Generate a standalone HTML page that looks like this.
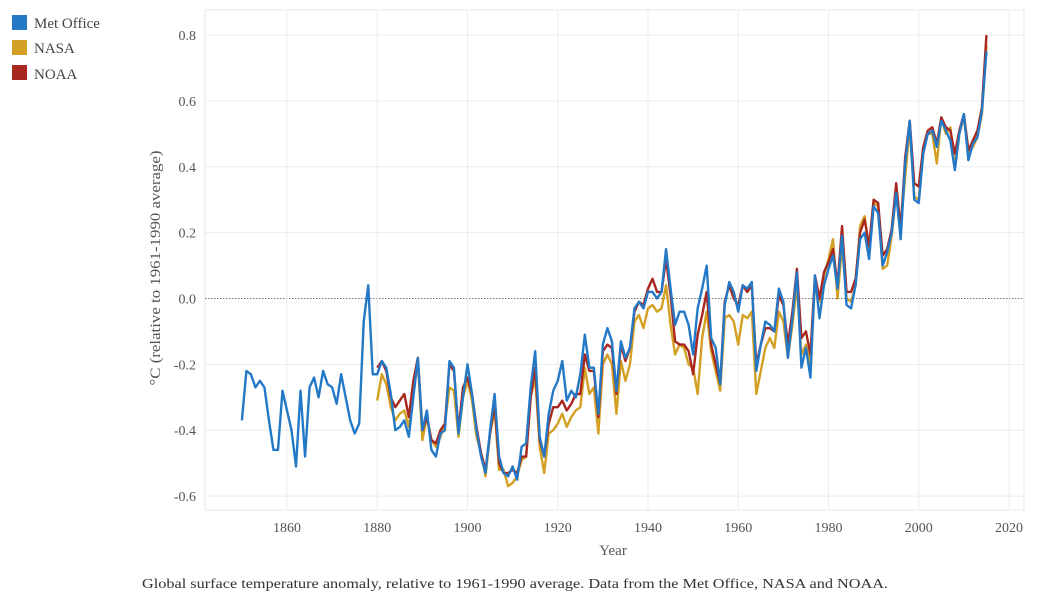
<!DOCTYPE html>
<html><head><meta charset="utf-8"><style>
body{margin:0;background:#fff;width:1038px;height:601px;overflow:hidden;font-family:"Liberation Serif",serif;}
svg text{font-family:"Liberation Serif",serif;}
</style></head><body>
<svg id="chart" width="1038" height="601" xmlns="http://www.w3.org/2000/svg">
<g>
<g><rect x="12" y="15" width="15" height="15" fill="#2479c7"/><text x="34" y="28" font-size="15" fill="#444">Met Office</text></g>
<g><rect x="12" y="40" width="15" height="15" fill="#d4a024"/><text x="34" y="53" font-size="15" fill="#444">NASA</text></g>
<g><rect x="12" y="65" width="15" height="15" fill="#a8271f"/><text x="34" y="79" font-size="15" fill="#444">NOAA</text></g>
</g>
<g id="grid"></g>
<g id="axes"></g>
<g id="series"></g>
<text x="613" y="555" text-anchor="middle" font-size="15" fill="#555">Year</text>
<text transform="translate(160,268) rotate(-90)" text-anchor="middle" font-size="15" textLength="235" lengthAdjust="spacingAndGlyphs" fill="#555">°C (relative to 1961-1990 average)</text>
<text x="142" y="588" font-size="14" textLength="746" lengthAdjust="spacingAndGlyphs" fill="#333">Global surface temperature anomaly, relative to 1961-1990 average. Data from the Met Office, NASA and NOAA.</text>
</svg>
<script>
const metStart = 1850;
const metValues = [-0.37,-0.22,-0.23,-0.27,-0.25,-0.27,-0.37,-0.46,-0.46,-0.28,-0.34,-0.40,-0.51,-0.28,-0.48,-0.27,-0.24,-0.30,-0.22,-0.26,-0.27,-0.32,-0.23,-0.30,-0.37,-0.41,-0.38,-0.07,0.04,-0.23,-0.23,-0.19,-0.21,-0.29,-0.40,-0.39,-0.37,-0.42,-0.30,-0.18,-0.40,-0.34,-0.46,-0.48,-0.41,-0.40,-0.19,-0.21,-0.41,-0.30,-0.20,-0.29,-0.40,-0.48,-0.53,-0.40,-0.29,-0.48,-0.53,-0.54,-0.51,-0.55,-0.45,-0.44,-0.27,-0.16,-0.42,-0.48,-0.35,-0.28,-0.25,-0.19,-0.31,-0.28,-0.30,-0.23,-0.11,-0.21,-0.21,-0.35,-0.14,-0.09,-0.13,-0.28,-0.13,-0.18,-0.15,-0.03,-0.01,-0.03,0.02,0.02,0.00,0.02,0.15,0.03,-0.08,-0.04,-0.04,-0.08,-0.17,-0.03,0.03,0.10,-0.12,-0.15,-0.26,-0.02,0.05,0.02,-0.04,0.04,0.03,0.05,-0.22,-0.14,-0.07,-0.08,-0.10,0.03,-0.01,-0.18,-0.06,0.08,-0.21,-0.15,-0.24,0.07,-0.06,0.04,0.09,0.13,0.03,0.19,-0.02,-0.03,0.04,0.18,0.20,0.12,0.28,0.26,0.10,0.14,0.20,0.32,0.18,0.41,0.54,0.30,0.29,0.44,0.50,0.51,0.46,0.54,0.51,0.48,0.39,0.50,0.56,0.42,0.47,0.49,0.57,0.75];
const nasaStart = 1880;
const nasaValues = [-0.31,-0.23,-0.26,-0.33,-0.37,-0.35,-0.34,-0.39,-0.29,-0.19,-0.43,-0.36,-0.43,-0.45,-0.42,-0.38,-0.27,-0.28,-0.42,-0.30,-0.25,-0.31,-0.42,-0.47,-0.54,-0.41,-0.34,-0.52,-0.52,-0.57,-0.56,-0.54,-0.49,-0.48,-0.30,-0.24,-0.45,-0.53,-0.41,-0.40,-0.38,-0.35,-0.39,-0.36,-0.34,-0.33,-0.21,-0.29,-0.27,-0.41,-0.20,-0.17,-0.20,-0.35,-0.19,-0.25,-0.20,-0.07,-0.05,-0.09,-0.03,-0.02,-0.04,-0.03,0.04,-0.08,-0.17,-0.14,-0.15,-0.20,-0.21,-0.29,-0.12,-0.04,-0.16,-0.22,-0.28,-0.06,-0.05,-0.07,-0.14,-0.05,-0.06,-0.04,-0.29,-0.22,-0.15,-0.12,-0.15,-0.04,-0.07,-0.18,-0.08,0.04,-0.17,-0.14,-0.20,0.05,-0.01,0.07,0.12,0.18,0.00,0.16,0.00,-0.01,0.04,0.22,0.25,0.15,0.29,0.28,0.09,0.10,0.19,0.32,0.22,0.37,0.52,0.31,0.30,0.45,0.50,0.50,0.41,0.55,0.50,0.52,0.40,0.50,0.55,0.44,0.46,0.49,0.56,0.77];
const noaaStart = 1880;
const noaaValues = [-0.21,-0.19,-0.22,-0.30,-0.33,-0.31,-0.29,-0.36,-0.25,-0.18,-0.40,-0.36,-0.43,-0.44,-0.40,-0.38,-0.20,-0.22,-0.40,-0.27,-0.24,-0.29,-0.39,-0.47,-0.52,-0.41,-0.32,-0.50,-0.53,-0.53,-0.52,-0.53,-0.48,-0.48,-0.30,-0.21,-0.43,-0.48,-0.38,-0.33,-0.33,-0.31,-0.34,-0.32,-0.29,-0.29,-0.17,-0.22,-0.22,-0.36,-0.16,-0.14,-0.15,-0.29,-0.14,-0.19,-0.15,-0.04,-0.01,-0.02,0.03,0.06,0.02,0.02,0.12,0.01,-0.13,-0.14,-0.14,-0.16,-0.23,-0.11,-0.05,0.02,-0.14,-0.20,-0.26,-0.01,0.04,0.00,-0.02,0.04,0.02,0.04,-0.20,-0.14,-0.09,-0.09,-0.10,0.01,-0.02,-0.14,-0.04,0.09,-0.12,-0.10,-0.17,0.07,0.00,0.08,0.11,0.15,0.04,0.22,0.02,0.02,0.06,0.20,0.24,0.16,0.30,0.29,0.13,0.15,0.21,0.35,0.21,0.43,0.54,0.35,0.34,0.46,0.51,0.52,0.47,0.55,0.52,0.51,0.44,0.51,0.56,0.45,0.48,0.51,0.58,0.80];
const xTicks = [1860,1880,1900,1920,1940,1960,1980,2000,2020];
const yTicks = [-0.6,-0.4,-0.2,0.0,0.2,0.4,0.6,0.8];

const NS='http://www.w3.org/2000/svg';
const L=205,R=1024,T=10,B=510;
function xs(y){return 287+(y-1860)*(1009-287)/160;}
function ys(v){return 298.5-v*(461/1.4);}
function mk(tag,attrs,parent){const e=document.createElementNS(NS,tag);for(const k in attrs)e.setAttribute(k,attrs[k]);parent.appendChild(e);return e;}
const grid=document.getElementById('grid'),axes=document.getElementById('axes'),series=document.getElementById('series');
const frame=mk('rect',{x:L,y:T,width:R-L,height:B-T,fill:'none',stroke:'#e6e6e6'},grid);


yTicks.forEach(v=>{
  const ln=mk('line',{x1:L,x2:R,y1:ys(v),y2:ys(v),stroke:v===0?'#777':'#ececec','stroke-width':1,'stroke-dasharray':v===0?'1.5,1.5':''},grid);
  
  
  const t=mk('text',{x:196,y:ys(v)+5,'text-anchor':'end','font-size':14,fill:'#555'},axes);
  t.textContent=v.toFixed(1);
  
  
});
xTicks.forEach(y=>{
  const ln=mk('line',{x1:xs(y),x2:xs(y),y1:T,y2:B,stroke:'#ececec'},grid);
  
  
  const t=mk('text',{x:xs(y),y:532,'text-anchor':'middle','font-size':14,fill:'#555'},axes);
  t.textContent=y;
  
  
});
function line(start,vals,color,name){
  const d=vals.map((v,i)=>(i?'L':'M')+xs(start+i).toFixed(2)+','+ys(v).toFixed(2)).join('');
  const p=mk('path',{d:d,fill:'none',stroke:color,'stroke-width':2.4,'stroke-linejoin':'round'},series);
  
  
}
line(nasaStart,nasaValues,'#d4a024','nasa-line');
line(noaaStart,noaaValues,'#a8271f','noaa-line');
line(metStart,metValues,'#2479c7','met-office-line');
</script>
</body></html>
